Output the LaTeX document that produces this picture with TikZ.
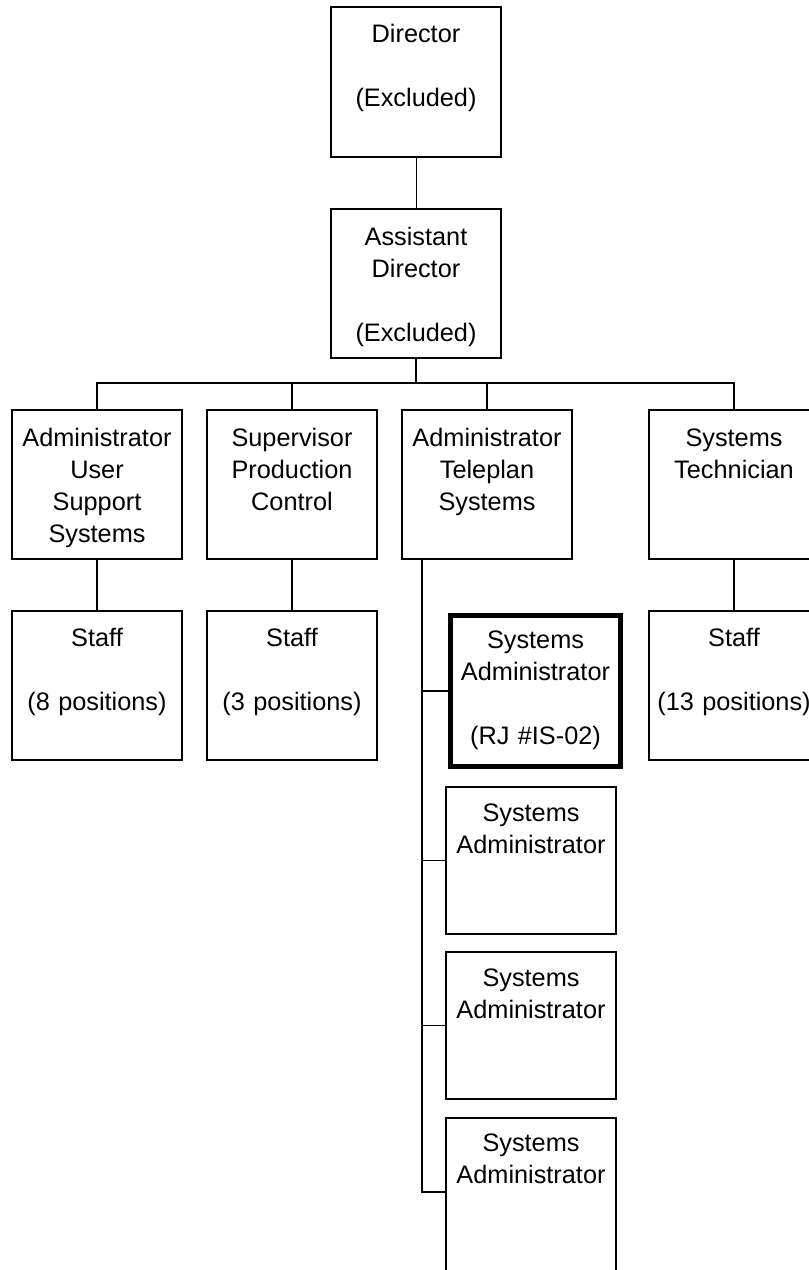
\documentclass[tikz,border=0pt]{standalone}
\usepackage{fontspec}
\setmainfont{Liberation Sans}
\begin{document}
\begin{tikzpicture}[x=1pt,y=-1pt]
    \tikzset{
        orgbox/.style={draw, line width=1.8, inner sep=0, text width=170, align=center,
            text height=35, text depth=114, font=\fontsize{25.3}{32}\selectfont},
        keybox/.style={orgbox, line width=4.6},
        link/.style={line width=1.8},
    }
    \useasboundingbox (0,0) rectangle (809,1270);
    \clip (0,0) rectangle (809,1270);

    % top
    \node[orgbox, text depth=115] (dir) at (416,82) {Director\\[32pt](Excluded)};
    \node[orgbox, text height=36, text depth=113] (asst) at (416,283.5) {Assistant\\Director\\[32pt](Excluded)};

    % second row
    \node[orgbox, text height=36, text depth=113] (usr) at (97,484.5) {Administrator\\User\\Support\\Systems};
    \node[orgbox, text height=36, text depth=113] (prod) at (292,484.5) {Supervisor\\Production\\Control};
    \node[orgbox, text height=36, text depth=113] (tele) at (487,484.5) {Administrator\\Teleplan\\Systems};
    \node[orgbox, text height=36, text depth=113] (tech) at (734,484.5) {Systems\\Technician};

    % staff
    \node[orgbox] (usrstaff) at (97,685.5) {Staff\\[32pt](8 positions)};
    \node[orgbox] (prodstaff) at (292,685.5) {Staff\\[32pt](3 positions)};
    \node[orgbox] (techstaff) at (734,685.5) {Staff\\[32pt](13 positions)};

    % teleplan column
    \node[keybox, text height=33, text depth=118] (sa1) at (535.5,691) {Systems\\Administrator\\[32pt](RJ \#IS-02)};
    \node[orgbox, text height=34, text depth=113] (sa2) at (531,860.5) {Systems\\Administrator};
    \node[orgbox, text height=34, text depth=113] (sa3) at (531,1025.5) {Systems\\Administrator};
    \node[orgbox, text height=34, text depth=150, anchor=north] (sa4) at (531,1117) {Systems\\Administrator};

    \coordinate (bus) at (416,383);
    \coordinate (trunk) at (422,559);

    \draw[line width=1] (dir) -- (asst);
    \draw[link] (asst.south) -- (bus);
    \draw[link] (usr.north) |- (bus) -| (tech.north);
    \draw[link] (prod.north) -- (prod.north |- bus);
    \draw[link] (tele.north) -- (tele.north |- bus);

    \draw[link] (usr) -- (usrstaff);
    \draw[link] (prod) -- (prodstaff);
    \draw[link] (tech) -- (techstaff);

    \draw[link] (trunk) |- ([yshift=-75pt]sa4.north west);
    \draw[link] (sa1.west) -- (sa1.west -| trunk);
    \draw[link] (sa2.west) -- (sa2.west -| trunk);
    \draw[link] (sa3.west) -- (sa3.west -| trunk);
\end{tikzpicture}
\end{document}
